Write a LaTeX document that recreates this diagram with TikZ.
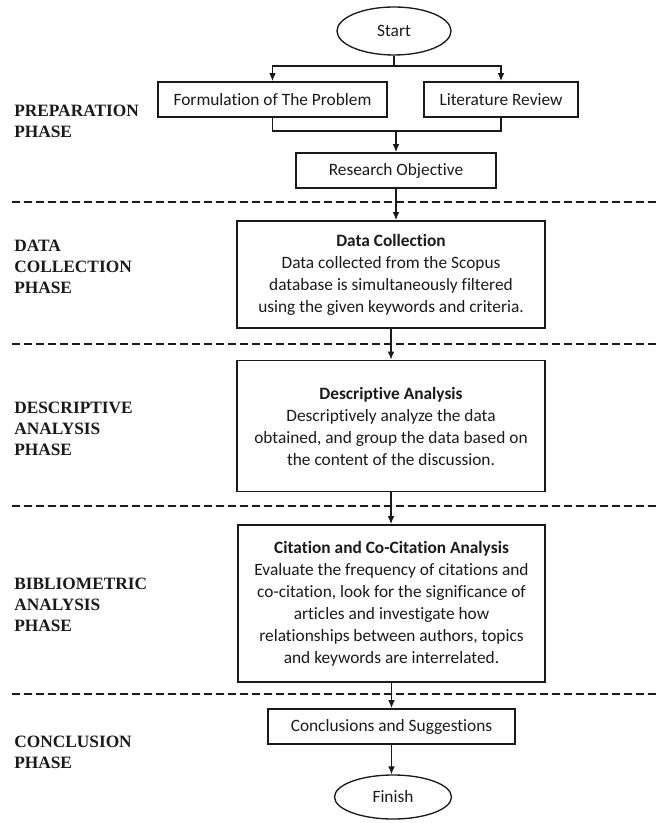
\documentclass[tikz,border=0pt]{standalone}
\usepackage{fontspec}
\setmainfont{Carlito}[Ligatures=CommonOff]
\newfontfamily\phasefont{Liberation Serif}
\usepackage{xcolor}
\usepackage{tikz}
\usetikzlibrary{arrows.meta,shapes.geometric}
\definecolor{Ink}{HTML}{1A1A1A}
\tikzset{
  stepbox/.style={draw=Ink,line width=1.4pt,inner sep=0pt,align=center,text=Ink},
  terminal/.style={draw=Ink,ellipse,line width=1pt,inner sep=0pt,text=Ink},
  phase/.style={anchor=north west,inner sep=0pt,align=left,text=Ink,
    font=\phasefont\bfseries\fontsize{13}{15.75}\selectfont},
  link/.style={draw=Ink,line width=0.8pt},
  divider/.style={draw=Ink,line width=1.8pt,dash pattern=on 6pt off 3pt},
}

\begin{document}
\begin{tikzpicture}[x=0.75pt,y=-0.75pt,>={Latex[length=6pt,width=5pt]},
  font=\fontsize{13}{16.5}\selectfont]
  \useasboundingbox (0,0) rectangle (656,823);
  \node[terminal,minimum width=85.5pt,minimum height=36pt] (start) at (394,31) {Start};
  \coordinate (split) at (394,66);
  \node[stepbox,minimum width=171.75pt,minimum height=26.25pt] (form) at (272.5,99.5) {Formulation of The Problem};
  \node[stepbox,minimum width=115.5pt,minimum height=26.25pt] (lit) at (501,99.5) {Literature Review};
  \coordinate (merge) at (396,131);
  \node[stepbox,minimum width=150pt,minimum height=26.25pt] (obj) at (396,170.5) {Research Objective};
  \node[stepbox,minimum width=231pt,minimum height=80.25pt] (data) at (391,274.5)
    {\textbf{Data Collection}\\Data collected from the Scopus\\database is simultaneously filtered\\using the given keywords and criteria.};
  \node[stepbox,minimum width=231pt,minimum height=98.25pt] (desc) at (391,426)
    {\textbf{Descriptive Analysis}\\Descriptively analyze the data\\obtained, and group the data based on\\the content of the discussion.};
  \node[stepbox,minimum width=230.25pt,minimum height=117.75pt] (cite) at (391.5,603.5)
    {\textbf{Citation and Co-Citation Analysis}\\Evaluate the frequency of citations and\\co-citation, look for the significance of\\articles and investigate how\\relationships between authors, topics\\and keywords are interrelated.};
  \node[stepbox,minimum width=185.25pt,minimum height=26.25pt] (concl) at (391.5,726.5) {Conclusions and Suggestions};
  \node[terminal,minimum width=87.75pt,minimum height=33pt] (finish) at (393,797) {Finish};

  \draw[link] (start) -- (split);
  \draw[link,->] (split) -| (form);
  \draw[link,->] (split) -| (lit);
  \draw[link] (form) |- (merge);
  \draw[link] (lit) |- (merge);
  \draw[link,->] (merge) -- (merge |- obj.north);
  \draw[link,->] (obj) -- (obj |- data.north);
  \draw[link,->] (data) -- (data |- desc.north);
  \draw[link,->] (desc) -- (desc |- cite.north);
  \draw[link,->] (cite) -- (cite |- concl.north);
  \draw[link,->] (concl) -- (concl |- finish.north);

  \foreach \y in {202,344,506,694}
    \draw[divider] (12,\y) -- (656,\y);

  \node[phase] (prep) at (14,105) {PREPARATION\\PHASE};
  \node[phase] (collect) at (14,240) {DATA\\COLLECTION\\PHASE};
  \node[phase] (descr) at (14,402) {DESCRIPTIVE\\ANALYSIS\\PHASE};
  \node[phase] (biblio) at (14,578) {BIBLIOMETRIC\\ANALYSIS\\PHASE};
  \node[phase] (closing) at (14,736) {CONCLUSION\\PHASE};
\end{tikzpicture}
\end{document}
